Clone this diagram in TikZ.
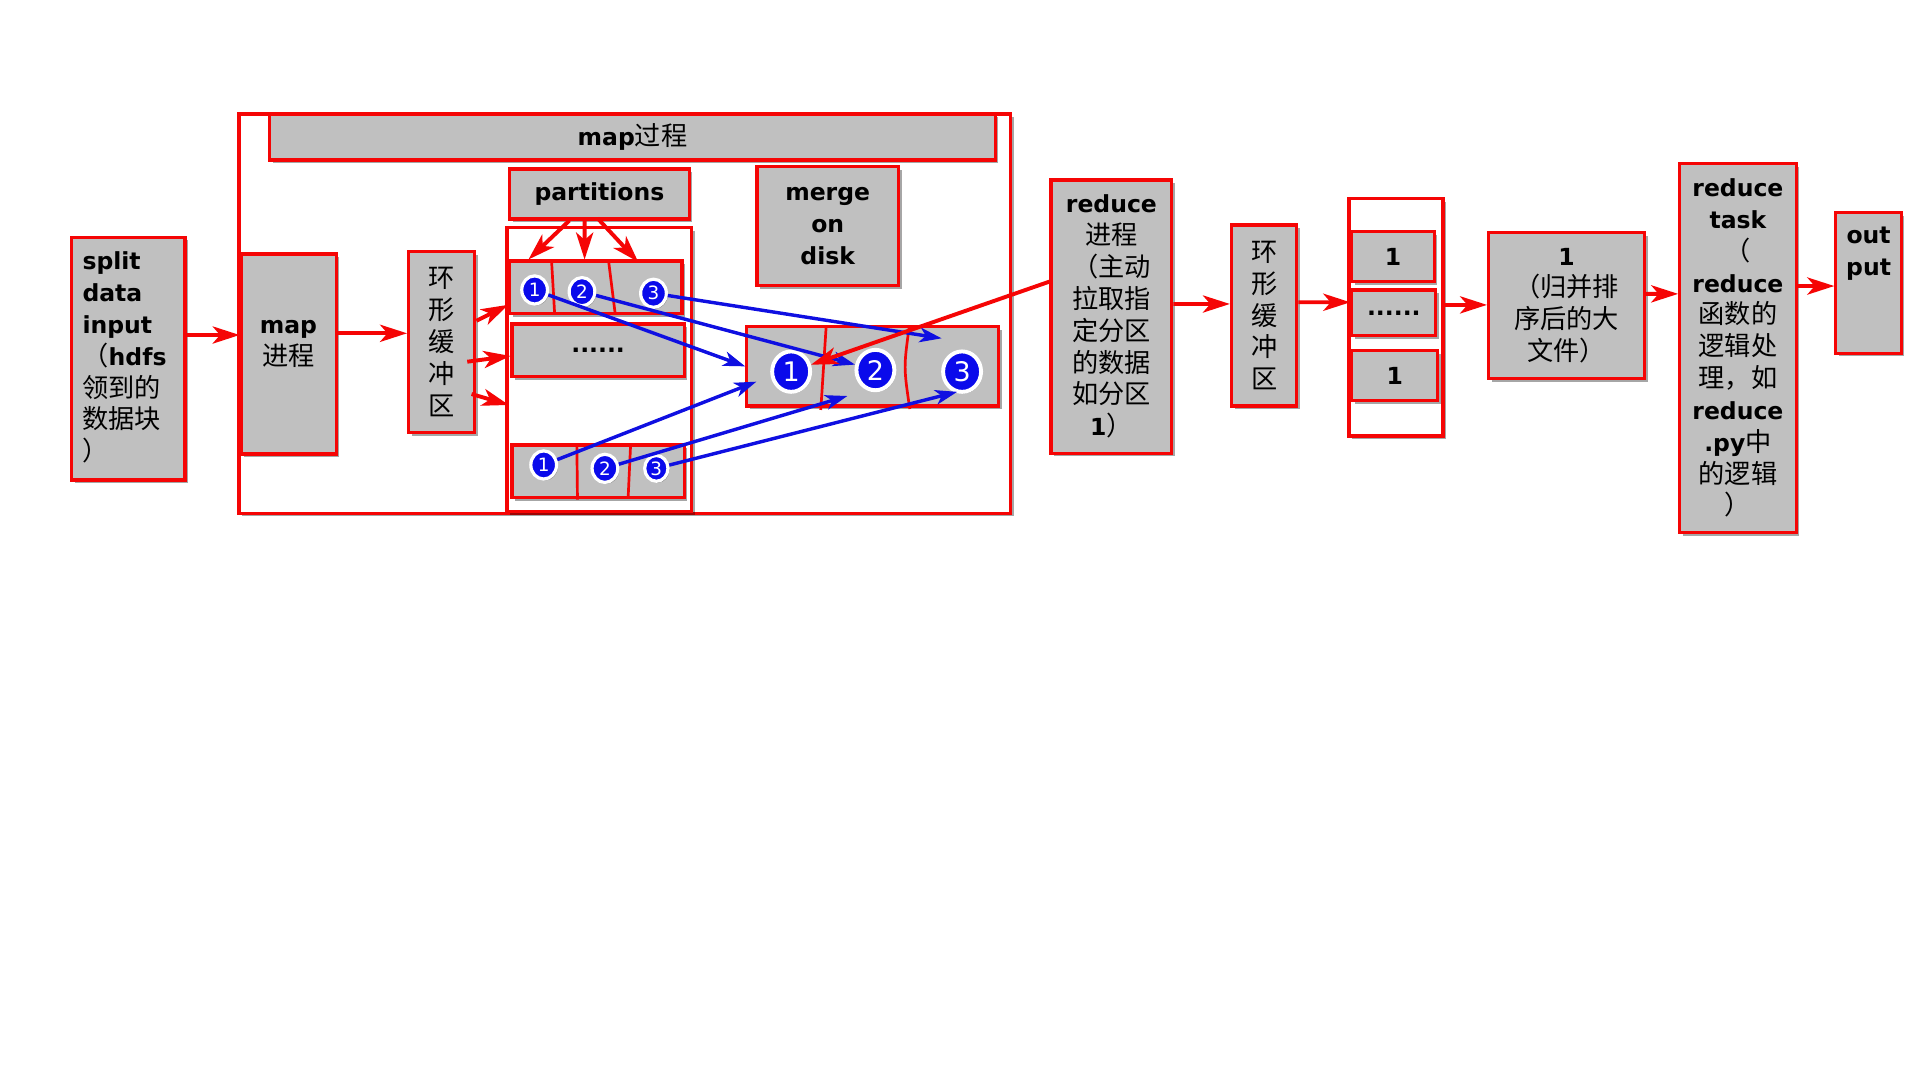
\documentclass[tikz,border=0pt]{standalone}
\usepackage{fontspec}
\setmainfont{DejaVu Sans}
\newfontfamily\cjk{Noto Sans CJK SC}
\usetikzlibrary{arrows.meta,shapes.geometric,shadows,calc}
\definecolor{boxred}{RGB}{245,5,5}
\definecolor{boxgray}{RGB}{192,192,192}
\definecolor{arrblue}{RGB}{15,15,225}
\definecolor{circblue}{RGB}{10,10,235}
\newcommand{\C}[1]{{\cjk\mdseries\fontsize{10.7}{13}\selectfont #1}}
\begin{document}
\begin{tikzpicture}[x=0.5pt,y=-0.5pt,
  bx/.style n args={4}{minimum width={(#3-#1)*0.5pt},minimum height={(#4-#2)*0.5pt},
    at={({(#1+#3)/2},{(#2+#4)/2})}},
  shd/.style={drop shadow={shadow xshift=1.3pt,shadow yshift=-1.3pt,opacity=0.35,fill=black}},
  box/.style={rectangle,draw=boxred,fill=boxgray,line width=1.3pt,inner sep=0pt,shd,align=center,
    font=\fontsize{9.6}{13}\selectfont\bfseries},
  frame/.style={rectangle,draw=boxred,fill=white,line width=1.4pt,inner sep=0pt,shd},
  txt/.style={inner sep=0pt,align=center,font=\fontsize{9.6}{13}\selectfont\bfseries},
  rarr/.style={draw=boxred,line width=1.6pt,-{Stealth[length=11pt,width=7pt,inset=3pt]}},
  barr/.style={draw=arrblue,line width=1.4pt,-{Stealth[length=9pt,width=6pt,inset=2.5pt]}},
  divider/.style={draw=boxred,line width=1.1pt},
  sc/.style={ellipse,fill=circblue,draw=white,line width=1.3pt,text=white,inner sep=0pt,
    minimum width=10.5pt,minimum height=11.5pt,font=\fontsize{7.5}{8}\selectfont,
    drop shadow={shadow xshift=0.6pt,shadow yshift=-0.6pt,opacity=0.3,fill=black}},
  bc/.style={sc,minimum width=15.5pt,minimum height=16.5pt,line width=1.6pt,font=\fontsize{11}{12}\selectfont}
]
\useasboundingbox (0,0) rectangle (1568,882);

% ---------- map process ----------
\node[frame,bx={195.3}{93.1}{825.3}{419.2}] (mapproc) {};
\node[box,bx={220.3}{93.1}{812.8}{130.7}] (maphead) {map\C{过程}};

\node[box,bx={58.5}{193.8}{151.1}{392}] (split) {};
\node[txt,align=left,anchor=west] (splittxt) at (67,292)
  {split\\data\\input\\\C{（}hdfs\\\C{领到的}\\\C{数据块}\\\C{）}};

\node[box,bx={197}{207.4}{274.5}{370.8}] (map) {};
\node[txt] (maptxt) at (235.5,281) {map\\\C{进程}};

\node[box,bx={333.7}{205.5}{387.8}{353.3}] (ring1) {\C{环}\\\C{形}\\\C{缓}\\\C{冲}\\\C{区}};

\node[box,bx={416.2}{138}{562.8}{178.8}] (part) {partitions};
\node[box,bx={618.2}{136.1}{733.7}{233.3}] (merge) {merge\\on\\disk};

\node[frame,bx={414}{186}{564.9}{417.9}] (cont) {};
\node[box,bx={416.2}{213.2}{557}{255.9}] (toprow) {};
\node[box,bx={418.2}{264.6}{558.7}{307.6}] (dots1) {......};
\node[box,bx={418.2}{363.4}{558.7}{406.4}] (botrow) {};
\node[box,bx={609.9}{266.8}{815.7}{331.6}] (mrg) {};

% dividers
\draw[divider] (450.5,214) -- (453,257);
\draw[divider] (497,213) -- (502.5,257);
\draw[divider] (471.1,363) -- (471.6,408);
\draw[divider] (515,363) -- (513,406);
\draw[divider] (674.6,268) -- (670.3,334.8);
\draw[divider] (742.5,267) .. controls (738,300) .. (743,334);

% circles
\node[sc] (t1) at (436.6,236.8) {1};
\node[sc] (t2) at (475.3,238.2) {2};
\node[sc] (t3) at (533.7,239.5) {3};
\node[sc] (b1) at (444,379.7) {1};
\node[sc] (b2) at (494,382.5) {2};
\node[sc,minimum width=9.5pt,minimum height=10.5pt] (b3) at (536,382.5) {3};
\node[bc] (m1) at (646.1,303.5) {1};
\node[bc] (m2) at (714.9,302.2) {2};
\node[bc] (m3) at (785.7,303.5) {3};

% ---------- reduce side ----------
\node[box,bx={858.3}{147}{957}{370.2}] (reduce)
  {reduce\\\C{进程}\\\C{（主动}\\\C{拉取指}\\\C{定分区}\\\C{的数据}\\\C{如分区}\\1\C{）}};
\node[box,bx={1005.7}{183.7}{1059}{331.6}] (ring2) {\C{环}\\\C{形}\\\C{缓}\\\C{冲}\\\C{区}};
\node[frame,bx={1101.7}{162}{1178.6}{356}] (cont2) {};
\node[box,bx={1104}{189.2}{1171.2}{230}] (one1) {1};
\node[box,bx={1104}{236.8}{1172.6}{274.1}] (dots2) {......};
\node[box,bx={1104}{286.4}{1174}{327.2}] (one2) {1};
\node[box,bx={1215.7}{190}{1343}{309}] (big) {1\\\C{（归并排}\\\C{序后的大}\\\C{文件）}};
\node[box,bx={1371.8}{133.4}{1466.8}{435}] (rtask)
  {reduce\\task\\\C{（}\\reduce\\\C{函数的}\\\C{逻辑处}\\\C{理，如}\\reduce\\.py\C{中}\\\C{的逻辑}\\\C{）}};
\node[box,bx={1499.3}{173.7}{1552.6}{288.5}] (out) {};
\node[txt] (outtxt) at (1526,207.5) {out\\put};

% ---------- red arrows ----------
\draw[rarr] ([yshift=9.65pt]split.east) -- ([yshift=7.75pt]map.west);
\draw[rarr] ([yshift=8.45pt]map.east) -- ([yshift=3.6pt]ring1.west);
\draw[rarr] ([yshift=8.7pt]ring1.east) -- ([yshift=-7.2pt]toprow.west);
\draw[rarr] ([xshift=-3.75pt,yshift=-8pt]ring1.east) -- ([yshift=-2.3pt]dots1.west);
\draw[rarr] ([xshift=-2pt,yshift=-21.2pt]ring1.east) -- ([xshift=1.5pt,yshift=-14.4pt]cont.west);
\draw[rarr] ([xshift=-12.25pt]part.south) -- ([xshift=-27.5pt]toprow.north);
\draw[rarr] ([xshift=-6pt,yshift=1.4pt]part.south) -- ([xshift=-4.6pt]toprow.north);
\draw[rarr] ([xshift=-0.75pt,yshift=0.9pt]part.south) -- ([xshift=17.3pt,yshift=-1pt]toprow.north);

% ---------- blue arrows ----------
\draw[barr] (t1) -- (mrg.west);
\draw[barr] (t2) -- (m2);
\draw[barr] (t3) -- ([xshift=28.1pt,yshift=11.45pt]mrg.center);
\draw[barr] (b1) -- ([xshift=4.55pt,yshift=-6.25pt]mrg.west);
\draw[barr] (b2) -- ([xshift=-10.4pt,yshift=-12.1pt]mrg.center);
\draw[barr] (b3) -- ([xshift=-2pt,yshift=0.8pt]m3.south);

\draw[rarr] ([yshift=14.3pt]reduce.west) -- (m1);
\draw[rarr] ([yshift=5.15pt]reduce.east) -- ([yshift=4.7pt]ring2.west);
\draw[rarr] ([yshift=5.4pt]ring2.east) -- ([yshift=4.3pt]dots2.west);
\draw[rarr] ([yshift=5pt]cont2.east) -- ([yshift=0.25pt]big.west);
\draw[rarr] ([yshift=4.75pt]big.east) -- ([yshift=22.1pt]rtask.west);
\draw[rarr] ([yshift=25.3pt]rtask.east) -- ([yshift=-1.25pt]out.west);
\end{tikzpicture}
\end{document}
